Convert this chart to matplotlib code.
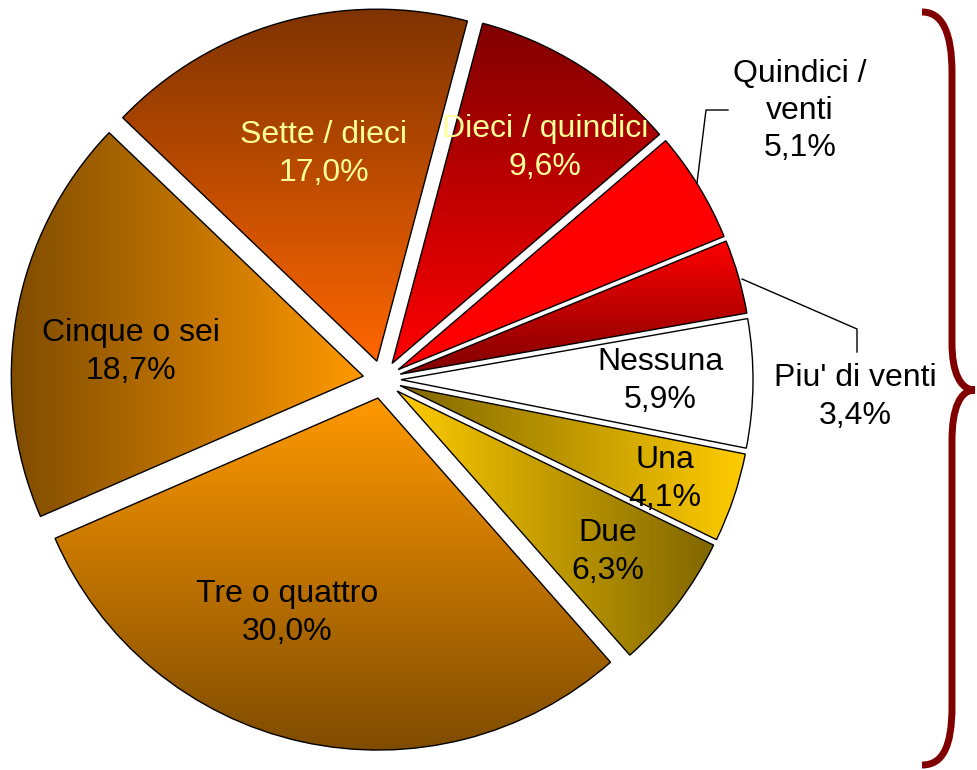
import numpy as np
import matplotlib
import matplotlib.pyplot as plt
from matplotlib.path import Path
from matplotlib.patches import PathPatch
from matplotlib.colors import to_rgb
matplotlib.use('Agg')

# slices, clockwise starting from "Nessuna"
labels = ['Nessuna', 'Una', 'Due', 'Tre o quattro', 'Cinque o sei',
          'Sette / dieci', 'Dieci / quindici', 'Quindici /\nventi', "Piu' di venti"]
values = [5.9, 4.1, 6.3, 30.0, 18.7, 17.0, 9.6, 5.1, 3.4]
pct_text = ['5,9%', '4,1%', '6,3%', '30,0%', '18,7%', '17,0%', '9,6%', '5,1%', '3,4%']

# fill: (start colour, end colour, direction)  'v' = top->bottom, 'h' = left->right
fills = [('#FFFFFF', '#FFFFFF', 'v'),
         ('#806600', '#FFCC00', 'h'),
         ('#FFCC00', '#806600', 'h'),
         ('#FF9900', '#7F4C00', 'v'),
         ('#7F4C00', '#FF9900', 'h'),
         ('#7F3300', '#FF6600', 'v'),
         ('#800000', '#FF0000', 'v'),
         ('#FF0000', '#FF0000', 'v'),
         ('#FF0000', '#800000', 'v')]
label_colors = ['black', 'black', 'black', 'black', 'black',
                '#FFFF99', '#FFFF99', 'black', 'black']

W, H = 977, 770
CX, CY, R = 382.0, 379.5, 352.0


def px(x, y):
    '''pixel position (y down) -> data coords of the unit pie'''
    return (x - CX) / R, (CY - y) / R


def gradient(c1, c2, direction, n=256):
    a = np.array(to_rgb(c1))
    b = np.array(to_rgb(c2))
    t = np.linspace(0, 1, n)[:, None]
    col = a * (1 - t) + b * t
    if direction == 'v':
        return col[:, None, :]
    return col[None, :, :]


def main():
    fig = plt.figure(figsize=(W / 100, H / 100), dpi=100)
    ax = fig.add_axes([0, 0, 1, 1])

    wedges, _ = ax.pie(values, explode=[19 / R] * len(values), startangle=10,
                       counterclock=False, radius=1,
                       wedgeprops=dict(edgecolor='black', linewidth=1.0))

    for w, (c1, c2, d) in zip(wedges, fills):
        w.set_facecolor('none')
        w.set_zorder(3)
        bb = w.get_path().get_extents()
        im = ax.imshow(gradient(c1, c2, d), extent=(bb.x0, bb.x1, bb.y0, bb.y1),
                       origin='upper', aspect='auto', zorder=2,
                       interpolation='bilinear')
        im.set_clip_path(w)

    # label positions in pixels
    pos = [(660, 381), (665, 479), (608, 552), (287, 613), (131, 352),
           (324, 154), (545, 148), (800, 111), (855, 397)]
    for lab, p, c, xy in zip(labels, pct_text, label_colors, pos):
        x, y = px(*xy)
        ax.text(x, y, lab + '\n' + p, ha='center', va='center', color=c,
                fontsize=23, family='Liberation Sans', linespacing=1.32, zorder=5)

    # leader lines
    lx, ly = zip(*[px(697, 183), px(706, 110), px(728, 110)])
    ax.plot(lx, ly, color='black', lw=1, zorder=4)
    lx, ly = zip(*[px(742, 279), px(857, 329), px(857, 352)])
    ax.plot(lx, ly, color='black', lw=1, zorder=4)

    # curly brace on the right
    pts = [(922, 12), (942, 12), (952, 32), (952, 73),
           (952, 343),
           (952, 372), (960, 390), (975, 390),
           (960, 390), (952, 408), (952, 441),
           (952, 706),
           (952, 748), (942, 765), (922, 765)]
    codes = [Path.MOVETO, Path.CURVE4, Path.CURVE4, Path.CURVE4,
             Path.LINETO,
             Path.CURVE4, Path.CURVE4, Path.CURVE4,
             Path.CURVE4, Path.CURVE4, Path.CURVE4,
             Path.LINETO,
             Path.CURVE4, Path.CURVE4, Path.CURVE4]
    brace = Path([px(*p) for p in pts], codes)
    ax.add_patch(PathPatch(brace, facecolor='none', edgecolor='#800000',
                           lw=5, capstyle='butt', zorder=4))

    ax.set_xlim(px(0, 0)[0], px(W, 0)[0])
    ax.set_ylim(px(0, H)[1], px(0, 0)[1])
    ax.set_aspect('auto')
    ax.axis('off')

    plt.savefig('out.png', dpi=100)
    plt.close()


if __name__ == '__main__':
    main()
